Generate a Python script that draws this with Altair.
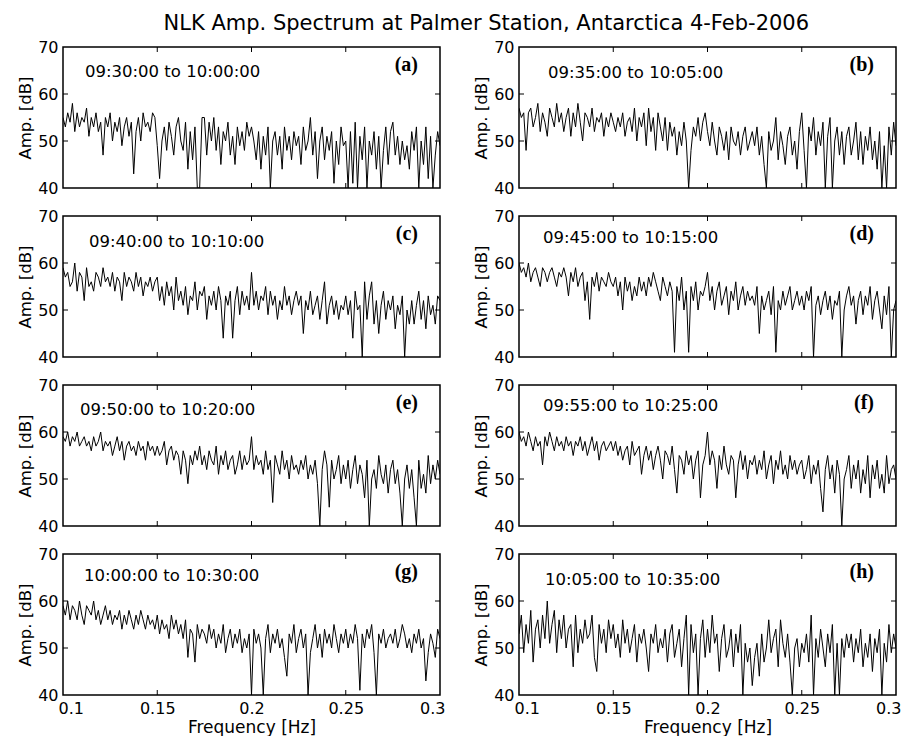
import altair as alt
import pandas as pd

FONT = "DejaVu Sans"
SERIF = "Liberation Serif"
W, H = 377, 141

FREQ_MIN, FREQ_MAX = 0.1, 0.3
x_tick_values = [0.1, 0.15, 0.2, 0.25, 0.3]
y_tick_values = [40, 50, 60, 70]
inner_x_ticks = [0.15, 0.2, 0.25]
inner_y_ticks = [50, 60]

title_text = "NLK Amp. Spectrum at Palmer Station, Antarctica 4-Feb-2006"
time_labels = ["09:30:00 to 10:00:00", "09:35:00 to 10:05:00",
               "09:40:00 to 10:10:00", "09:45:00 to 10:15:00",
               "09:50:00 to 10:20:00", "09:55:00 to 10:25:00",
               "10:00:00 to 10:30:00", "10:05:00 to 10:35:00"]
letters = ["(a)", "(b)", "(c)", "(d)", "(e)", "(f)", "(g)", "(h)"]

amp_a = [55,53,56,54,58,52,56,53,55,54,57,51,55,53,56,52,54,47,55,53,
         56,50,54,52,55,49,53,55,51,54,43,52,55,50,56,53,54,52,56,55,
         49,42,50,53,48,54,51,47,53,55,50,48,54,44,52,46,53,40,40,55,
         55,47,54,50,55,48,53,45,52,50,54,47,51,45,53,49,52,48,54,51,
         53,50,46,52,44,51,47,53,40,50,52,47,51,44,53,48,51,46,52,49,
         51,45,53,48,50,55,47,52,42,50,53,46,51,48,52,41,50,45,53,49,
         50,40,52,41,54,40,51,46,53,40,50,47,52,44,51,40,48,53,45,52,
         54,47,51,45,50,46,49,44,52,48,53,40,50,45,53,42,51,40,47,52,49]

amp_b = [57,55,56,48,56,57,53,55,58,52,56,54,51,57,55,53,58,54,56,52,
         55,57,51,56,53,58,54,50,56,55,53,57,52,55,54,56,51,55,53,56,
         54,52,55,53,56,51,54,55,52,57,50,55,53,56,49,57,52,55,48,56,
         53,50,55,48,54,51,53,47,52,49,54,50,40,48,53,51,55,50,54,56,
         52,49,54,50,47,53,51,48,52,46,53,50,49,52,47,51,53,48,50,52,
         49,53,47,51,45,40,52,48,50,55,46,52,49,45,51,53,47,50,44,52,
         56,48,40,53,50,55,47,52,49,54,40,51,55,40,50,53,47,52,45,51,
         53,47,50,54,46,52,45,51,48,53,46,50,44,52,40,49,40,53,47,54,49]

amp_c = [59,57,58,55,56,60,54,58,57,52,59,55,56,54,58,57,55,59,56,57,
         55,58,54,57,56,52,58,55,57,56,54,58,55,57,53,56,55,57,54,56,
         57,52,55,51,56,53,55,50,57,52,54,51,55,49,53,52,56,50,54,53,
         55,48,53,51,54,50,55,52,44,53,51,54,44,52,55,49,54,51,53,50,
         58,51,54,50,53,52,55,49,54,51,53,48,52,50,55,51,53,49,52,54,
         51,53,45,52,50,54,49,51,53,48,52,56,47,51,53,49,52,48,51,50,
         53,49,52,44,54,50,51,40,56,48,53,56,47,52,45,51,54,48,52,50,
         53,46,51,49,53,40,50,47,52,47,51,54,48,52,46,53,49,51,47,53,52]

amp_d = [60,58,59,57,60,56,58,59,57,55,59,58,56,58,59,57,55,58,57,59,
         57,53,58,56,59,55,57,58,52,56,48,57,55,58,54,57,56,55,58,56,
         55,57,53,56,50,57,54,56,52,55,53,57,54,56,53,57,55,58,56,54,
         52,57,55,53,56,54,41,55,52,57,50,54,41,55,52,56,50,54,53,55,
         58,52,55,50,54,56,51,53,55,49,54,52,56,50,53,55,51,54,52,53,
         51,55,45,53,50,52,54,49,55,41,52,50,54,51,53,55,50,52,54,51,
         53,50,54,52,55,40,51,53,49,52,54,50,53,48,52,51,54,40,50,53,
         55,51,53,47,52,54,49,53,51,55,48,52,54,50,46,53,49,55,40,50,52]

amp_e = [59,58,60,57,59,58,60,57,58,59,57,58,56,59,57,58,60,56,58,57,
         58,55,57,59,56,58,54,57,58,56,57,55,58,56,57,54,58,56,57,55,
         57,55,56,58,53,56,57,54,56,55,51,56,54,49,55,53,56,54,57,53,
         55,52,56,54,53,57,51,55,53,56,52,54,55,51,53,56,52,55,53,54,
         59,52,55,53,54,51,56,52,54,45,55,53,51,56,52,54,50,55,52,53,
         51,54,52,55,50,53,51,54,49,40,52,56,53,44,54,50,52,55,49,53,
         50,54,48,52,55,49,53,51,46,54,40,50,52,48,55,51,49,53,47,52,
         54,49,52,47,40,50,53,48,52,46,40,54,48,51,47,55,49,53,50,54,51]

amp_f = [60,58,59,57,60,58,56,59,57,58,53,59,57,60,58,56,59,57,58,56,
         59,57,58,55,58,57,59,56,58,55,57,59,56,58,54,57,58,56,57,58,
         56,58,55,57,54,56,57,53,58,55,56,57,51,55,57,54,56,52,55,57,
         54,50,56,55,53,57,52,47,55,54,51,56,53,55,50,54,56,46,53,55,
         60,53,56,54,48,55,52,57,53,51,55,54,46,53,56,52,55,50,54,53,
         55,51,54,52,56,50,53,55,49,54,52,56,51,53,50,55,52,54,51,53,
         54,50,52,55,49,53,51,54,48,43,52,55,50,53,47,54,51,40,50,52,
         55,48,53,50,54,47,52,49,55,46,53,50,54,48,51,47,55,49,52,53,50]

amp_g = [59,57,60,56,59,58,56,60,57,55,59,58,57,60,56,58,55,57,59,56,
         58,55,57,56,58,54,57,55,58,56,54,57,55,58,56,54,57,55,56,54,
         57,53,56,54,55,52,57,54,56,53,55,52,56,48,54,53,47,55,52,54,
         53,51,55,52,54,50,53,51,55,49,52,54,50,53,51,54,49,52,50,53,
         40,54,51,53,50,40,52,55,49,53,51,54,50,52,48,44,53,51,55,49,
         52,54,50,53,40,49,52,55,50,53,48,54,51,53,50,55,52,49,53,51,
         54,50,53,51,55,52,41,53,50,54,52,55,49,40,53,51,54,50,52,53,
         51,54,50,52,55,53,50,52,49,53,51,54,50,52,43,49,53,51,48,54,52]

amp_h = [53,57,49,55,51,58,47,54,56,50,57,52,60,51,55,58,49,56,52,57,
         50,54,55,46,57,49,54,51,56,52,53,57,48,45,55,51,54,49,56,52,
         55,50,53,48,56,51,54,49,52,55,47,53,51,54,50,45,53,51,55,49,
         52,50,54,47,53,55,48,51,54,46,52,57,40,55,49,53,40,52,56,48,
         54,49,57,51,53,45,52,55,48,50,54,46,53,49,55,40,51,47,50,42,
         48,51,44,53,47,50,56,49,52,54,46,56,51,48,53,47,40,50,52,46,
         51,49,53,47,57,40,52,48,54,50,46,53,49,55,40,51,40,52,48,53,
         50,53,47,52,49,54,46,51,48,53,45,52,49,54,40,51,47,55,49,53,50]

series = [amp_a, amp_b, amp_c, amp_d, amp_e, amp_f, amp_g, amp_h]
text_pos = [(22, 30), (29, 31), (26, 31), (24, 27),
            (17, 30), (24, 26), (21, 27), (26, 31)]

x_scale = alt.Scale(domain=[FREQ_MIN, FREQ_MAX], nice=False, zero=False)
y_scale = alt.Scale(domain=[40, 70], nice=False, zero=False)


def freqs(n):
    return [FREQ_MIN + (FREQ_MAX - FREQ_MIN) * i / (n - 1) for i in range(n)]


def panel(vals, label, letter, tpos, bottom):
    df = pd.DataFrame({"f": freqs(len(vals)), "a": vals})
    if bottom:
        x_axis = alt.Axis(values=x_tick_values, format="~g", ticks=False,
                          domain=False, grid=False, labelFont=FONT, labelFontSize=16,
                          labelColor="black", labelPadding=5, labelFlush=True,
                          labelFlushOffset=5, title="Frequency [Hz]", titleFont=FONT,
                          titleFontSize=17, titleFontWeight="normal", titleColor="black",
                          titlePadding=3)
    else:
        x_axis = None
    y_axis = alt.Axis(values=y_tick_values, ticks=False, domain=False,
                      grid=False, labelFont=FONT, labelFontSize=16, labelColor="black",
                      labelPadding=5, title="Amp. [dB]", titleFont=FONT,
                      titleFontSize=16.5, titleFontWeight="normal", titleColor="black",
                      titlePadding=4)
    line = alt.Chart(df).mark_line(color="black", strokeWidth=1, clip=True).encode(
        x=alt.X("f:Q", scale=x_scale, axis=x_axis),
        y=alt.Y("a:Q", scale=y_scale, axis=y_axis),
    )
    xt = pd.DataFrame({"f": inner_x_ticks})
    yt = pd.DataFrame({"a": inner_y_ticks})
    tick_top = alt.Chart(xt).mark_rule(color="black", strokeWidth=1).encode(
        x=alt.X("f:Q", scale=x_scale, axis=x_axis), y=alt.value(0), y2=alt.value(5))
    tick_bot = alt.Chart(xt).mark_rule(color="black", strokeWidth=1).encode(
        x=alt.X("f:Q", scale=x_scale, axis=x_axis), y=alt.value(H), y2=alt.value(H - 5))
    tick_l = alt.Chart(yt).mark_rule(color="black", strokeWidth=1).encode(
        y=alt.Y("a:Q", scale=y_scale, axis=y_axis), x=alt.value(0), x2=alt.value(5))
    tick_r = alt.Chart(yt).mark_rule(color="black", strokeWidth=1).encode(
        y=alt.Y("a:Q", scale=y_scale, axis=y_axis), x=alt.value(W), x2=alt.value(W - 5))
    txt = alt.Chart(pd.DataFrame({"t": [label]})).mark_text(
        align="left", baseline="alphabetic", font=FONT, fontSize=16.5, color="black"
    ).encode(text="t:N", x=alt.value(tpos[0]), y=alt.value(tpos[1]))
    let = alt.Chart(pd.DataFrame({"t": [letter]})).mark_text(
        align="right", baseline="alphabetic", font=SERIF, fontSize=20,
        fontWeight="bold", color="black"
    ).encode(text="t:N", x=alt.value(W - 22), y=alt.value(24))
    return alt.layer(line, tick_top, tick_bot, tick_l, tick_r, txt, let).properties(
        width=W, height=H)


panels = [panel(series[k], time_labels[k], letters[k], text_pos[k], k >= 6)
          for k in range(8)]

chart = alt.concat(
    *panels, columns=2, spacing={"row": 28, "column": 79}, bounds="flush",
    title=alt.TitleParams(title_text, font=FONT, fontSize=21, fontWeight="normal",
                          color="black", anchor="middle", offset=4, dx=27),
).configure_view(stroke="black", strokeWidth=1.5).properties(
    padding={"left": 8, "top": 5, "right": 0, "bottom": 0})

chart.save("out.html", embed_options={"renderer": "svg", "actions": False})
